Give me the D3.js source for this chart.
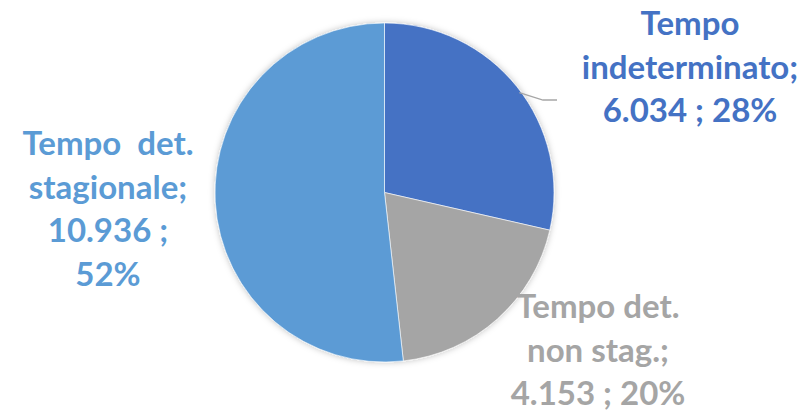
<!DOCTYPE html>
<html>
<head>
<meta charset="utf-8">
<script src="https://cdn.jsdelivr.net/npm/d3@7"></script>
<style>
  html, body { margin: 0; padding: 0; background: #fff; }
  svg { display: block; }
</style>
</head>
<body>
<div id="chart"></div>
<script>
// Chart values
var categories = ["Tempo indeterminato", "Tempo det. non stag.", "Tempo det. stagionale"];
var values = [6034, 4153, 10936];
var percents = [28, 20, 52];
var colors = ["#4472C4", "#A5A5A5", "#5B9BD5"];
// how each label breaks into lines
var labelLines = [
    ["Tempo", "indeterminato;", "{v} ; {p}%"],
    ["Tempo det.", "non stag.;", "{v} ; {p}%"],
    ["Tempo  det.", "stagionale;", "{v} ;", "{p}%"]
];

var width = 803, height = 411;
var cx = 384.5, cy = 192.5, radius = 169.5;
var lineHeight = 43.5;

// where each label's first baseline sits
var labelPos = [
    { x: 690, y: 35 },
    { x: 598, y: 318 },
    { x: 108, y: 155 }
];

var it = d3.formatLocale({ decimal: ",", thousands: ".", grouping: [3], currency: ["€", ""] });
var fmt = it.format(",d");

var svg = d3.select("#chart").append("svg")
    .attr("width", width)
    .attr("height", height);

// soft shadow round the pie
var defs = svg.append("defs");
var shadow = defs.append("filter").attr("id", "shadow")
    .attr("x", "-10%").attr("y", "-10%").attr("width", "120%").attr("height", "120%");
shadow.append("feDropShadow")
    .attr("dx", 0).attr("dy", 0).attr("stdDeviation", 3)
    .attr("flood-color", "#000").attr("flood-opacity", 0.25);

var pie = d3.pie().sort(null).value(d => d);
var arcs = pie(values);
var arc = d3.arc().innerRadius(0).outerRadius(radius);

var g = svg.append("g").attr("transform", `translate(${cx}, ${cy})`);

g.append("g").attr("filter", "url(#shadow)")
    .selectAll("path")
    .data(arcs)
    .enter().append("path")
    .attr("d", arc)
    .attr("fill", (d, i) => colors[i])
    .attr("stroke", "#fff")
    .attr("stroke-width", 0.6);

// leader line for the first slice
var a0 = arcs[0];
var angle = a0.startAngle + (a0.endAngle - a0.startAngle) * 0.52;
var p0 = [Math.sin(angle) * radius * 0.99, -Math.cos(angle) * radius * 0.99];
svg.append("polyline")
    .attr("points", [[cx + p0[0], cy + p0[1]], [543, 100], [557, 100]].map(p => p.join(",")).join(" "))
    .attr("fill", "none")
    .attr("stroke", "#A6A6A6")
    .attr("stroke-width", 1.3);

// labels
labelLines.forEach(function (lines, i) {
    var t = svg.append("text")
        .attr("x", labelPos[i].x)
        .attr("y", labelPos[i].y)
        .attr("text-anchor", "middle")
        .attr("fill", colors[i])
        .style("font-family", "Lato, 'Open Sans', sans-serif")
        .style("font-weight", "bold")
        .style("font-size", "33px")
        .style("white-space", "pre");
    lines.forEach(function (ln, j) {
        t.append("tspan")
            .attr("x", labelPos[i].x)
            .attr("dy", j == 0 ? 0 : lineHeight)
            .text(ln.replace("{v}", fmt(values[i])).replace("{p}", percents[i]));
    });
});
</script>
</body>
</html>
